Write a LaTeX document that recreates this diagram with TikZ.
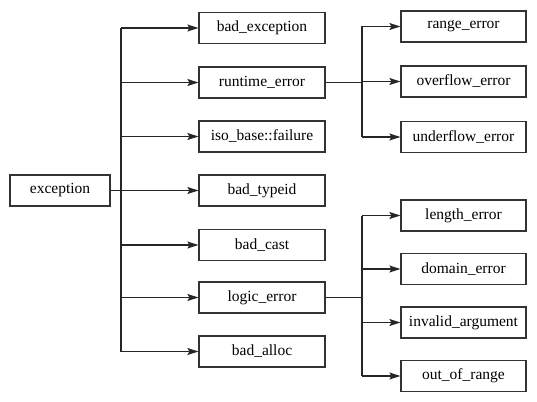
\documentclass[tikz,border=0pt]{standalone}
\usepackage{fontspec}
\setmainfont{Liberation Serif}
\usetikzlibrary{arrows.meta}
\begin{document}
\begin{tikzpicture}[x=1pt,y=-1pt,
  cls/.style={draw=black!80,line width=1.2pt,minimum height=31pt,inner sep=0pt,font=\fontsize{15.5}{18}\selectfont},
  c1/.style={cls,minimum width=100pt},
  c2/.style={cls,minimum width=126pt},
  c3/.style={cls,minimum width=125pt},
  conn/.style={line width=1.3pt,black!85},
  arr/.style={conn,-{Stealth[length=11pt,width=7pt,inset=2pt]}}]
\useasboundingbox (0,0) rectangle (537,401);
\node[c1] (exc) at (60,190.5) {exception};
\node[c2] (be) at (262,28) {bad\_exception};
\node[c2] (re) at (262,82.5) {runtime\_error};
\node[c2] (iso) at (262,136.5) {iso\_base::failure};
\node[c2] (bt) at (262,190.5) {bad\_typeid};
\node[c2] (bc) at (262,245) {bad\_cast};
\node[c2] (le) at (262,297.5) {logic\_error};
\node[c2] (ba) at (262,351.5) {bad\_alloc};
\node[c3] (rng) at (463.5,26.5) {range\_error};
\node[c3] (ov) at (463.5,81.5) {overflow\_error};
\node[c3] (un) at (463.5,137) {underflow\_error};
\node[c3] (len) at (463.5,215.5) {length\_error};
\node[c3] (dom) at (463.5,269) {domain\_error};
\node[c3] (inv) at (463.5,322.5) {invalid\_argument};
\node[c3] (oor) at (463.5,376) {out\_of\_range};
\coordinate (j1) at (121,0);
\coordinate (j2) at (362,0);
\draw[conn] (exc.east) -- (exc.east -| j1);
\draw[conn] (be.west -| j1) -- (ba.west -| j1);
\foreach \n in {be,re,iso,bt,bc,le,ba} \draw[arr] (\n.west -| j1) -- (\n.west);
\draw[conn] (re.east) -- (re.east -| j2);
\draw[conn] (rng.west -| j2) -- (un.west -| j2);
\foreach \n in {rng,ov,un} \draw[arr] (\n.west -| j2) -- (\n.west);
\draw[conn] (le.east) -- (le.east -| j2);
\draw[conn] (len.west -| j2) -- (oor.west -| j2);
\foreach \n in {len,dom,inv,oor} \draw[arr] (\n.west -| j2) -- (\n.west);
\end{tikzpicture}
\end{document}
